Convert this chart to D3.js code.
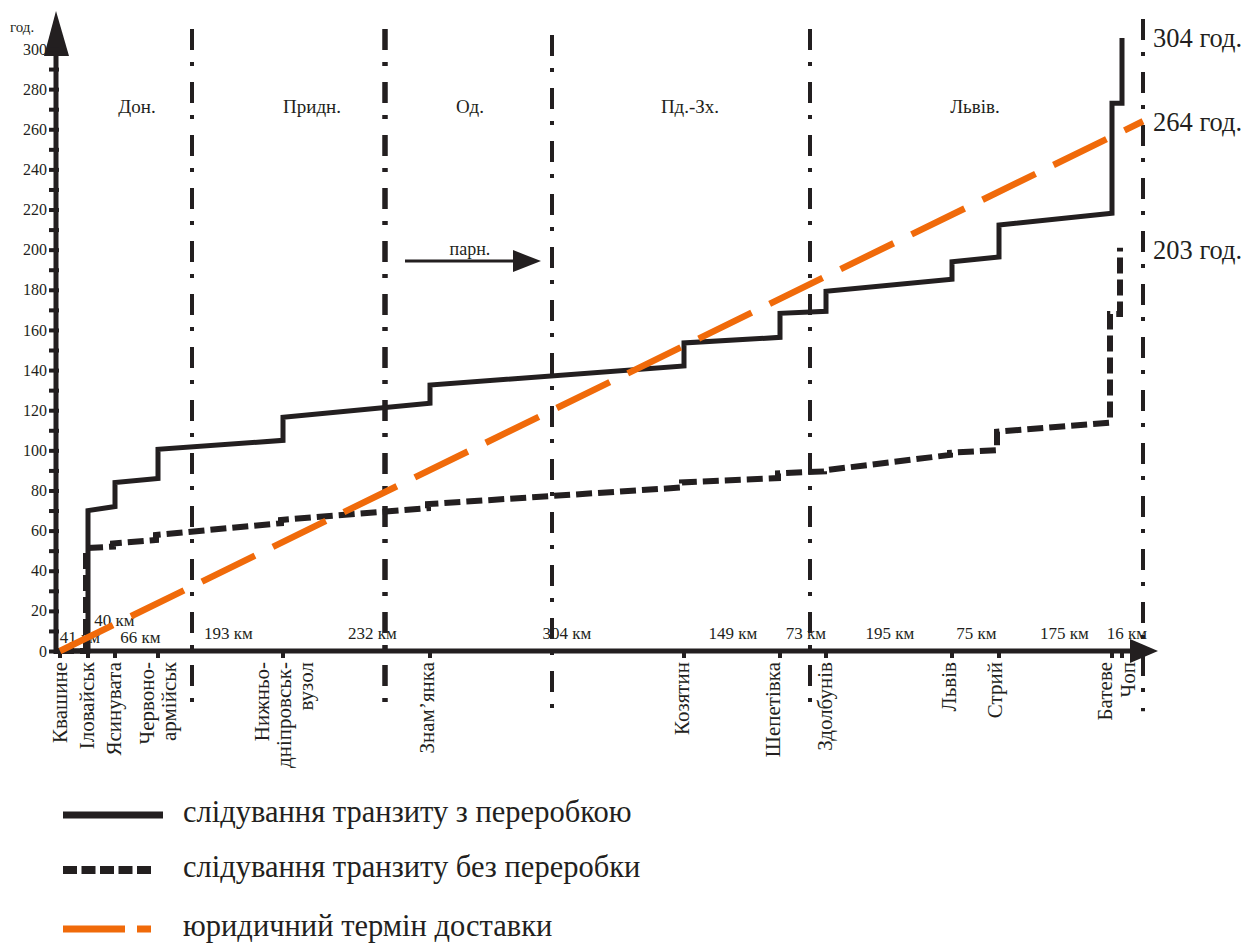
<!DOCTYPE html>
<html><head><meta charset="utf-8">
<script src="https://cdn.jsdelivr.net/npm/d3@7"></script>
<style>body{margin:0;background:#fff} svg text{font-family:"Liberation Serif","Times New Roman",serif !important;}</style>
</head><body>
<svg id="chart" width="1248" height="943"></svg>
<script>
// ---------- DATA ----------
const stationLabels = [["Квашине"],["Іловайськ"],["Ясинувата"],["Червоно-","армійськ"],["Нижньо-","дніпровськ-","вузол"],["Знам’янка"],["Козятин"],["Шепетівка"],["Здолбунів"],["Львів"],["Стрий"],["Батеве"],["Чоп"]];
const stationPos = [3, 31, 58, 101, 226, 373, 627, 723, 769, 895, 942, 1055, 1065];
const segmentKm = [41, 40, 66, 193, 232, 304, 149, 73, 195, 75, 175, 16];
// hours on arrival / departure at each station
const withProcessing = [[0,0],[0,70],[72,84],[86,100.5],[105,116.5],[123.5,132.5],[142,153.5],[156.3,168.3],[169.3,179.3],[185.3,194],[196.3,212.3],[218.2,273],[273,305.5]];
const withoutProcessing = [[0,0],[0,51.3],[52,53.6],[55.3,57.8],[63.7,65.3],[71.2,73.2],[81.5,84],[86.2,88.5],[89.5,90],[97.7,98.8],[100.1,109.3],[113.8,168],[168,201]];
const legalTermHours = [0, 264];
const regionNames = ["Дон.","Придн.","Од.","Пд.-Зх.","Львів."];
const regionBounds = [135, 328, 495, 753, 1086];
const regionLabelPos = [80, 255, 413, 633, 918];
const totalLabels = ["304 год.","264 год.","203 год."];
const totalValues = [304, 264, 203];
const yTicks = d3.range(0, 301, 10);
const legendLabels = ["слідування транзиту з переробкою","слідування транзиту без переробки","юридичний термін доставки"];

// ---------- DRAW ----------
const svg = d3.select("#chart");
const FONT = "Liberation Serif";
const INK = "#231f20", ORANGE = "#f06a0a";
svg.append("rect").attr("width",1248).attr("height",943).attr("fill","#fff");

const x = d3.scaleLinear().domain([0,1100]).range([57,1157]);
const y = d3.scaleLinear().domain([0,300]).range([651,49]);

// region boundaries
const bTop = [310, 310, 307, 310, 315];
regionBounds.forEach((b,i)=>{
  svg.append("line").attr("x1",x(b)).attr("x2",x(b)).attr("y1",y(bTop[i])).attr("y2",y(-30))
    .attr("stroke",INK).attr("stroke-width", i===1?5.5:4)
    .attr("stroke-dasharray","21,12,4,16");
});
svg.selectAll(".reg").data(regionNames).join("text")
  .attr("x",(d,i)=>x(regionLabelPos[i])).attr("y",y(271.5)).attr("dy","0.35em")
  .attr("text-anchor","middle").style("font-family",FONT).attr("font-size",19).attr("fill",INK).text(d=>d);

// axes
const y0 = y(0);
svg.append("line").attr("x1",x(-3)).attr("x2",x(1075)).attr("y1",y0).attr("y2",y0).attr("stroke",INK).attr("stroke-width",5);
svg.append("path").attr("d",`M${x(1073)},${y0-12}L${x(1101)},${y0}L${x(1073)},${y0+12}Z`).attr("fill",INK);
svg.append("line").attr("x1",x(-1)).attr("x2",x(-1)).attr("y1",y0+3).attr("y2",y(300)-8).attr("stroke",INK).attr("stroke-width",5);
svg.append("path").attr("d",`M${x(-13)},${y(300)+7}L${x(-1)},${y(300)-38}L${x(12)},${y(300)+7}Z`).attr("fill",INK);

const yAxis = d3.axisLeft(y).tickValues(yTicks).tickFormat(d=>d%20===0?d:"").tickSize(0);
const ya = svg.append("g").attr("transform",`translate(${x(-1)},0)`).call(yAxis);
ya.attr("font-family",null);
ya.select(".domain").remove();
ya.selectAll(".tick line").attr("x1",3).attr("x2",-7).attr("stroke",INK).attr("stroke-width",4);
ya.selectAll(".tick text").attr("x",-9).style("font-family",FONT).attr("font-size",16).attr("fill",INK);
svg.append("text").attr("x",10).attr("y",32).style("font-family",FONT).attr("font-size",15).attr("fill",INK).text("год.");

// station ticks and labels
svg.selectAll(".stick").data(stationPos).join("line")
  .attr("x1",d=>x(d)).attr("x2",d=>x(d)).attr("y1",y0).attr("y2",y0+7).attr("stroke",INK).attr("stroke-width",4);
const labelNudge = [0,-1,-1,0,1,-3,-2,-7,-1,-3,-4,-7,6];
stationLabels.forEach((lines,i)=>{
  const cx = x(stationPos[i]) + labelNudge[i];
  lines.forEach((ln,j)=>{
    const off = (j-(lines.length-1)/2)*22;
    svg.append("text").attr("transform",`translate(${cx+off},${y0+11}) rotate(-90)`)
      .attr("dy","0.35em").attr("text-anchor","end").style("font-family",FONT).attr("font-size",21).attr("fill",INK).text(ln);
  });
});

// km labels
const kmNudge = [6,13,4,8,16,10,1,3,1,1,9,10];
const kmBase = [643,626,643,639,639,639,639,639,639,639,639,639];
segmentKm.forEach((k,i)=>{
  const mid = (x(stationPos[i])+x(stationPos[i+1]))/2 + kmNudge[i];
  svg.append("text").attr("x",mid).attr("y",kmBase[i]).attr("text-anchor","middle")
    .style("font-family",FONT).attr("font-size",17).attr("fill",INK).text(k+" км");
});

// series
function stepPoints(arr){ const pts=[]; arr.forEach((d,i)=>{pts.push([stationPos[i],d[0]]);pts.push([stationPos[i],d[1]]);}); return pts; }
const line = d3.line().x(d=>x(d[0])).y(d=>y(d[1]));
svg.append("path").attr("d",line(stepPoints(withProcessing))).attr("fill","none").attr("stroke",INK)
  .attr("stroke-width",5);
svg.append("path").attr("d",line(stepPoints(withoutProcessing))).attr("fill","none").attr("stroke",INK)
  .attr("stroke-width",6).attr("stroke-dasharray","16,6").attr("transform","translate(-2,0)");
svg.append("path").attr("d",line([[stationPos[0],legalTermHours[0]],[regionBounds[regionBounds.length-1],legalTermHours[1]]]))
  .attr("fill","none").attr("stroke",ORANGE).attr("stroke-width",6.5).attr("stroke-dasharray","59,20");

// direction arrow
svg.append("line").attr("x1",x(348)).attr("x2",x(460)).attr("y1",y(194.3)).attr("y2",y(194.3)).attr("stroke",INK).attr("stroke-width",3);
svg.append("path").attr("d",`M${x(456)},${y(194.3)-11}L${x(484)},${y(194.3)}L${x(456)},${y(194.3)+11}Z`).attr("fill",INK);
svg.append("text").attr("x",x(413)).attr("y",y(197.5)).attr("text-anchor","middle").style("font-family",FONT).attr("font-size",18).attr("fill",INK).text("парн.");

// totals
const totNudge = [-3,0,6];
totalLabels.forEach((t,i)=>{
  svg.append("text").attr("x",1153).attr("y",y(totalValues[i])+totNudge[i]).attr("dy","0.35em")
    .style("font-family",FONT).attr("font-size",26.5).attr("fill",INK).text(t);
});

// legend
const lg = [815, 870, 929];
svg.append("line").attr("x1",63).attr("x2",163).attr("y1",lg[0]).attr("y2",lg[0]).attr("stroke",INK).attr("stroke-width",7);
svg.append("line").attr("x1",63).attr("x2",151).attr("y1",lg[1]).attr("y2",lg[1]).attr("stroke",INK).attr("stroke-width",8).attr("stroke-dasharray","14,4.5");
svg.append("line").attr("x1",63).attr("x2",151).attr("y1",lg[2]).attr("y2",lg[2]).attr("stroke",ORANGE).attr("stroke-width",7).attr("stroke-dasharray","62,12,14,100");
legendLabels.forEach((t,i)=>{
  svg.append("text").attr("x",183).attr("y",lg[i]-2).attr("dy","0.3em").style("font-family",FONT).attr("font-size",30.5).attr("fill",INK).text(t);
});
</script>
</body></html>
